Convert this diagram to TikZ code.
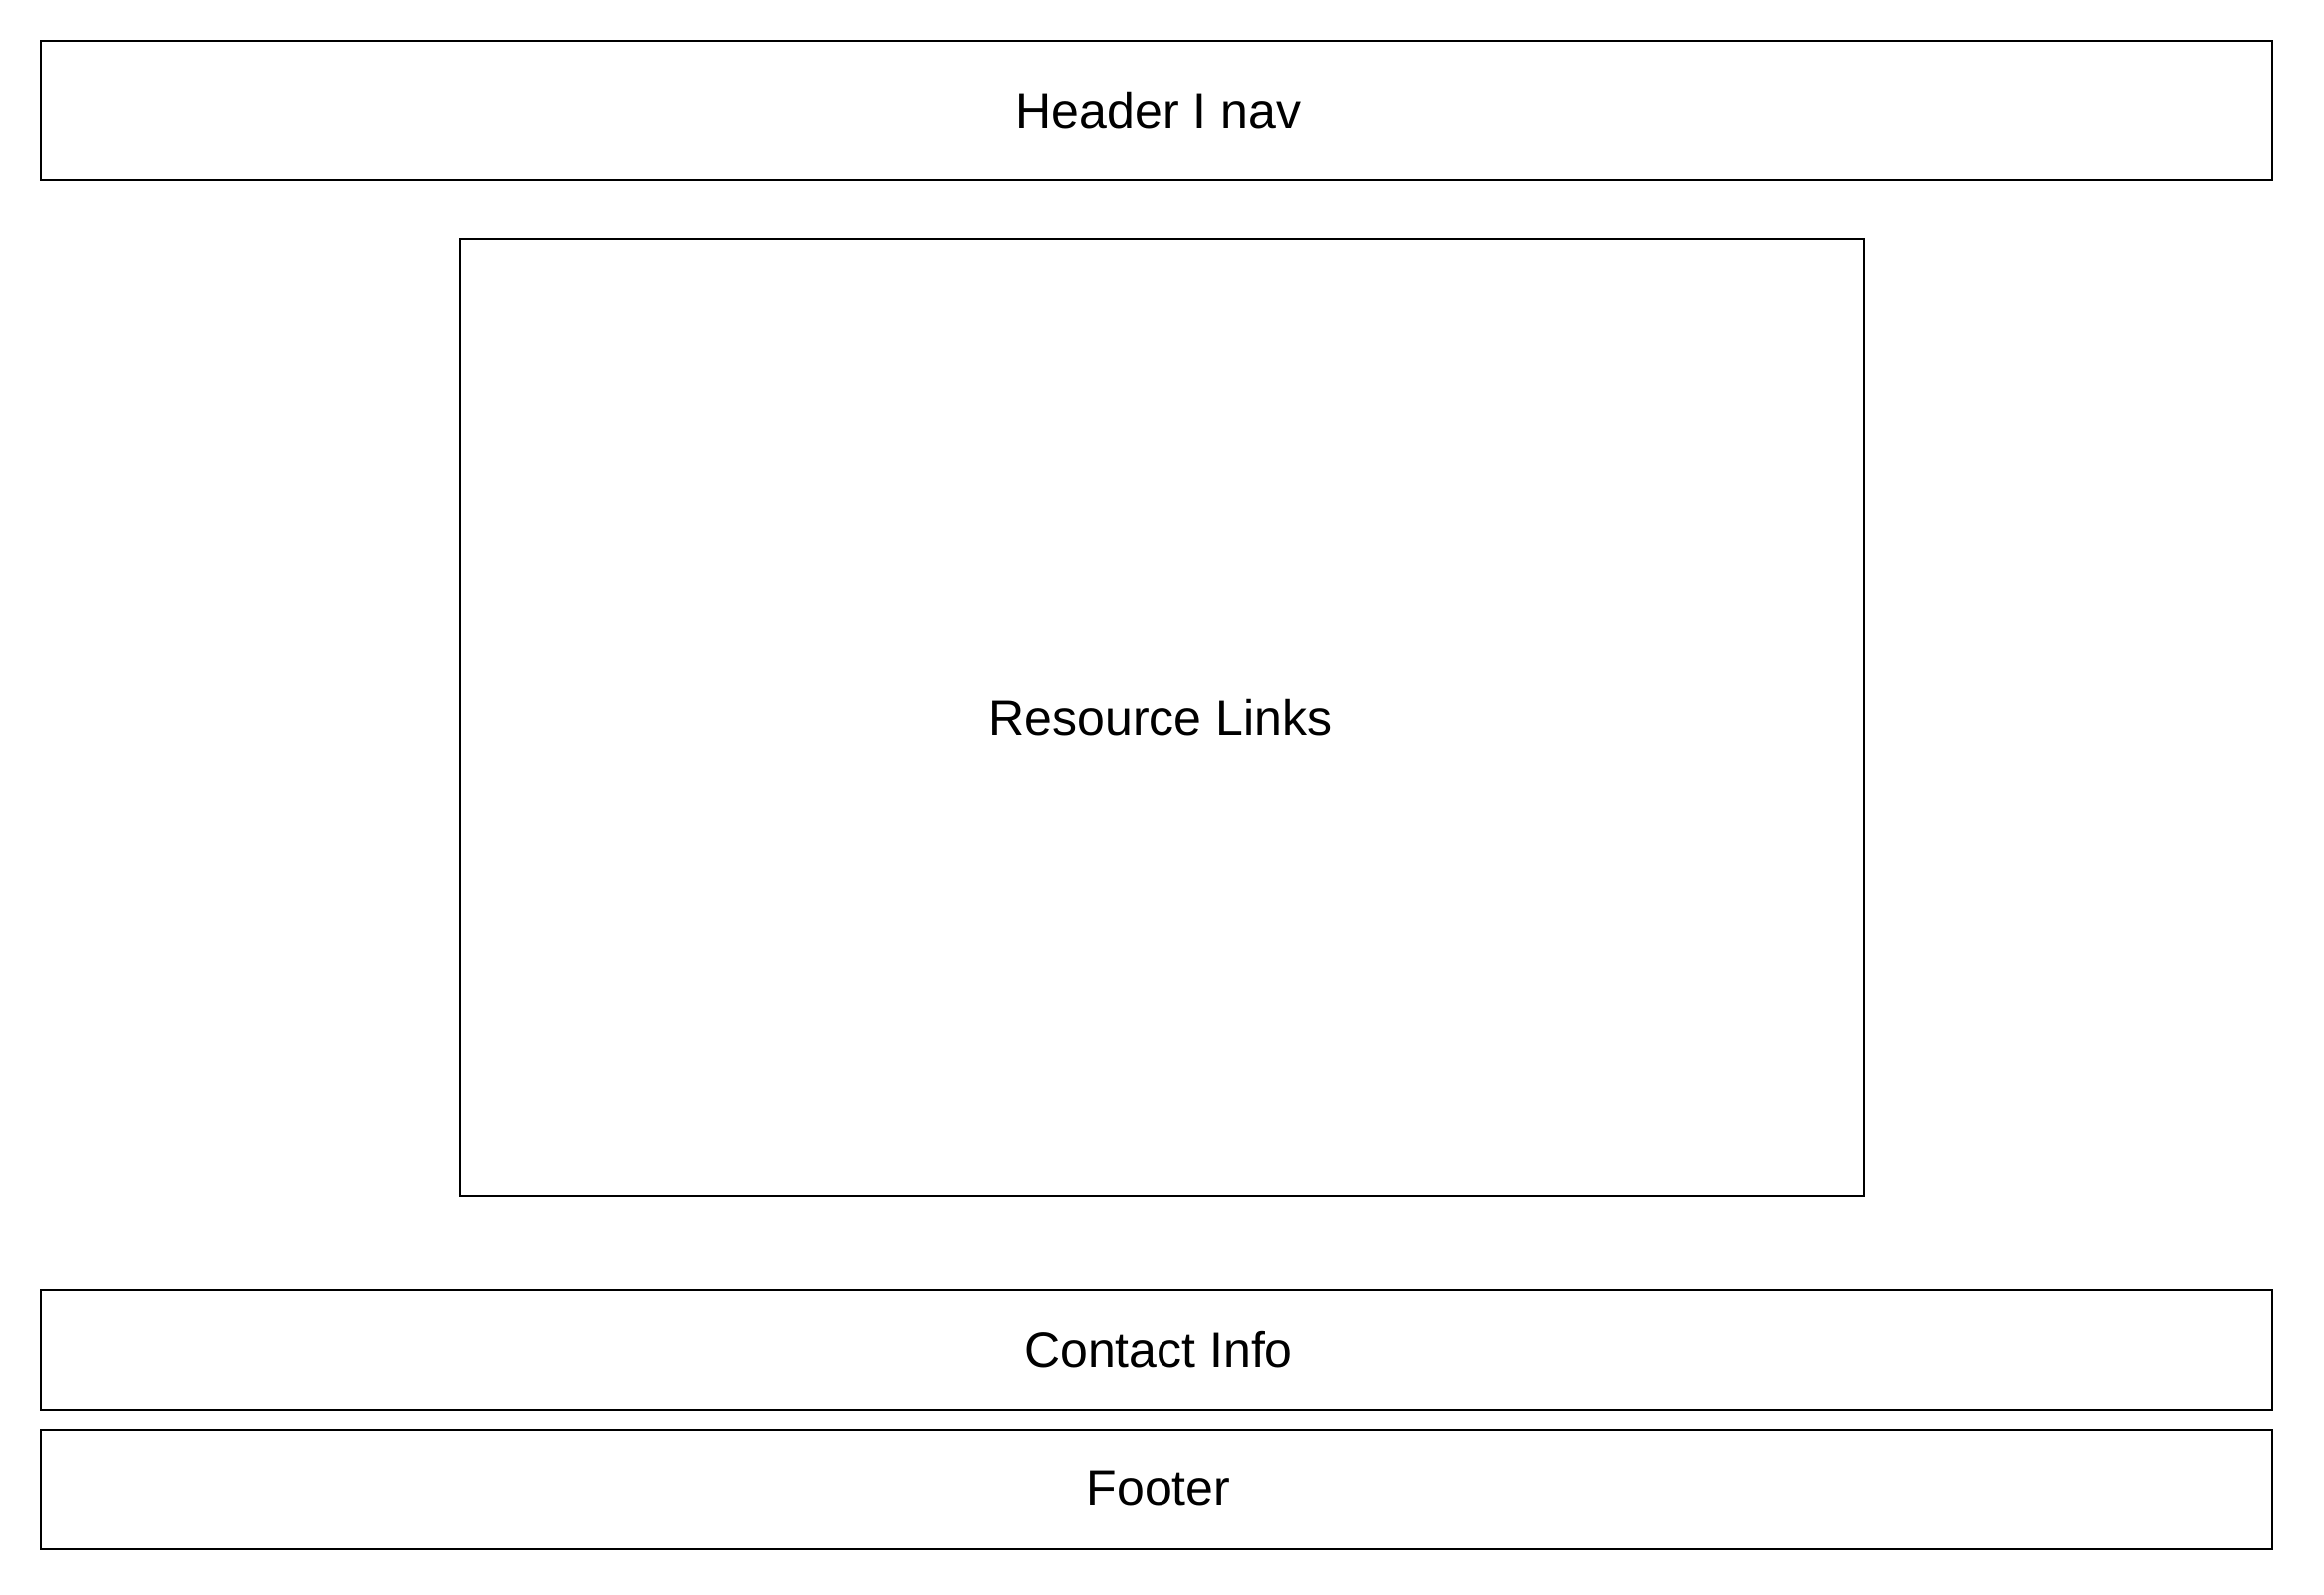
\documentclass[tikz,border=0pt]{standalone}
\usepackage{fontspec}
\setmainfont{Liberation Sans}
\begin{document}
\begin{tikzpicture}[x=0.5pt,y=-0.5pt,
  blk/.style={draw=black,line width=1.1pt,fill=white}]
\useasboundingbox[fill=white] (0,0) rectangle (2331,1600);
\draw[blk] (41,41) rectangle (2279,181);
\draw[blk] (461,240) rectangle (1870,1200);
\draw[blk] (41,1294) rectangle (2279,1414);
\draw[blk] (41,1434) rectangle (2279,1554);
\tikzset{lbl/.style={font=\fontsize{25}{30}\selectfont,inner sep=0pt}}
\node[lbl] (hdr) at (1162,111) {Header I nav};
\node[lbl] (res) at (1164,720) {Resource Links};
\node[lbl] (con) at (1162,1354) {Contact Info};
\node[lbl] (ftr) at (1162,1494) {Footer};
\end{tikzpicture}
\end{document}
